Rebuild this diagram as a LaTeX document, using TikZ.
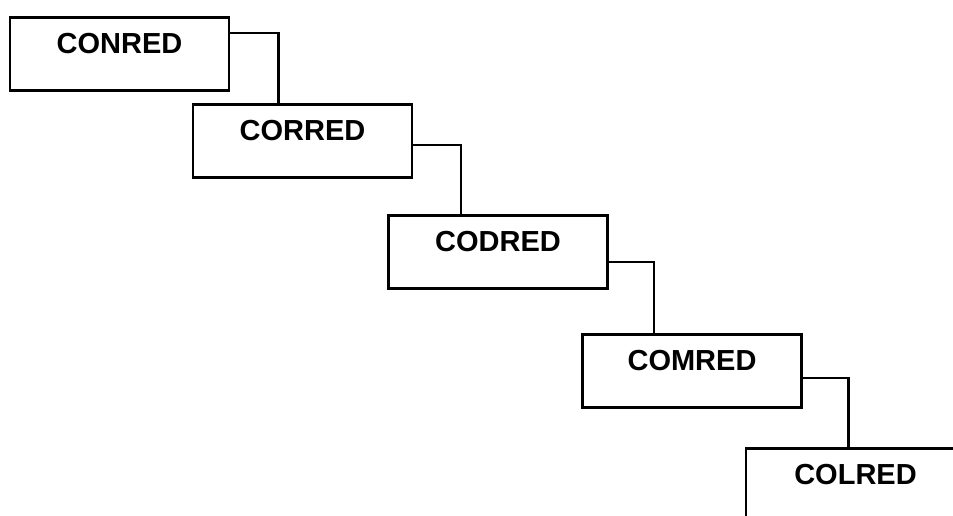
\documentclass[tikz,border=0pt]{standalone}
\usepackage{fontspec}
\setmainfont{Liberation Sans}
\begin{document}
\begin{tikzpicture}[x=1pt,y=-1pt,
  box/.style={draw=black, line width=2.8pt, rectangle, anchor=north,
    minimum width=219pt, inner xsep=0pt, inner ysep=0pt,
    text height=36pt, text depth=37pt,
    font=\fontsize{29}{30}\selectfont\bfseries},
  link/.style={draw=black, line width=2.4pt}]
\clip (0,0) rectangle (953,515);
\fill[white] (0,0) rectangle (953,515);
\node[box] (n1) at (119.5,16) {CONRED};
\node[box] (n2) at (302.5,103) {CORRED};
\node[box] (n3) at (498,214) {CODRED};
\node[box] (n4) at (692,333) {COMRED};
\node[box] (n5) at (855.5,447) {COLRED};
\draw[link] ([yshift=-17pt]n1.north east) -| ([xshift=87pt]n2.north west);
\draw[link] ([yshift=-42pt]n2.north east) -| ([xshift=74pt]n3.north west);
\draw[link] ([yshift=-48pt]n3.north east) -| ([xshift=73pt]n4.north west);
\draw[link] ([yshift=-45pt]n4.north east) -| ([xshift=104pt]n5.north west);
\end{tikzpicture}
\end{document}
